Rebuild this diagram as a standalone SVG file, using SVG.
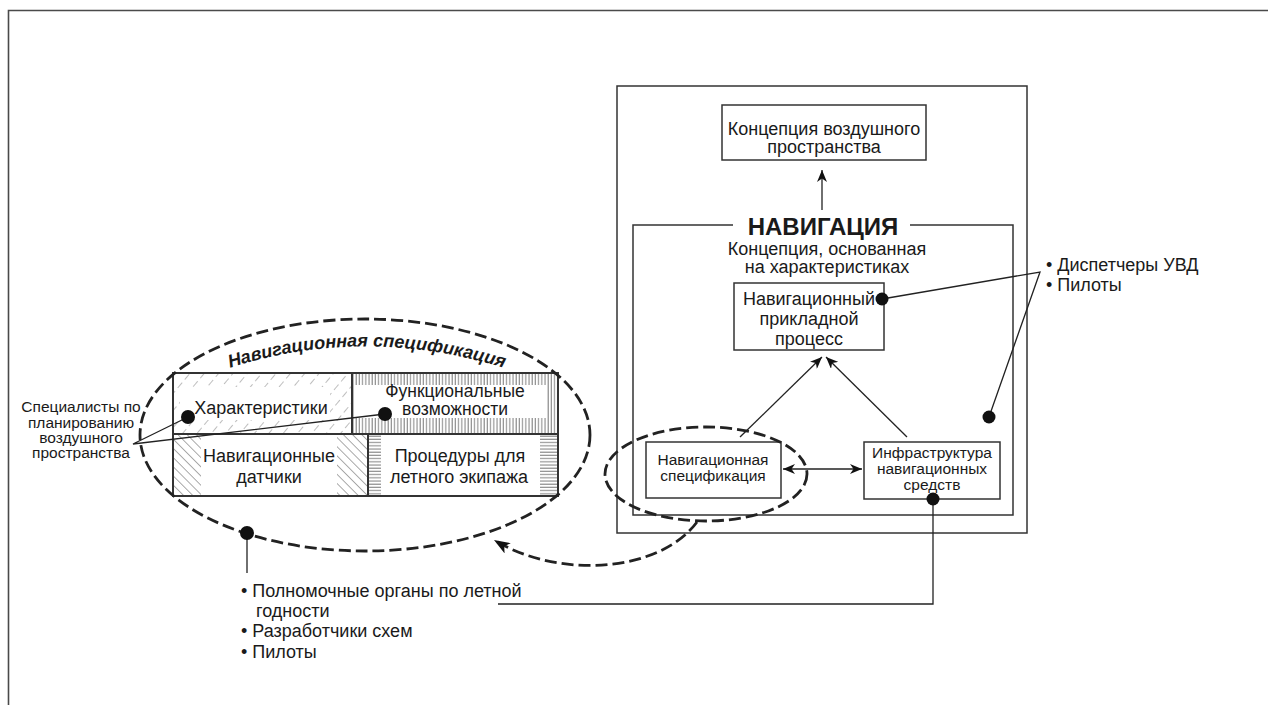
<svg xmlns="http://www.w3.org/2000/svg" width="1268" height="705" viewBox="0 0 1268 705">
  <style>
    text { font-family: "Liberation Sans", Arial, sans-serif; fill: #1a1a1a; }
    .t18 { font-size: 18px; }
    .t17 { font-size: 17.5px; }
    .t16 { font-size: 15.5px; }
    .mid { text-anchor: middle; }
    .box { fill: #fff; stroke: #333; stroke-width: 1.5; }
    .cell { fill: none; stroke: #333; stroke-width: 2; }
    .ln { fill: none; stroke: #222; stroke-width: 1.3; }
    .dash { fill: none; stroke: #222; stroke-width: 2.8; stroke-dasharray: 12 5; }
    .dot { fill: #111; }
  </style>
  <defs>
    <marker id="head" viewBox="0 0 12 10" refX="12" refY="5" markerWidth="12" markerHeight="10" markerUnits="userSpaceOnUse" orient="auto-start-reverse">
      <path d="M0,0 L12,5 L0,10 L3.5,5 z" fill="#111"/>
    </marker>
    <marker id="headBig" viewBox="0 0 16 12" refX="16" refY="6" markerWidth="16" markerHeight="12" markerUnits="userSpaceOnUse" orient="auto">
      <path d="M0,0 L16,6 L0,12 L4,6 z" fill="#111"/>
    </marker>
    <pattern id="hatchFwd" width="11" height="11" patternUnits="userSpaceOnUse" patternTransform="rotate(40)">
      <line x1="0" y1="0" x2="0" y2="11" stroke="#a8a8a8" stroke-width="1.5" stroke-dasharray="7 4"/>
    </pattern>
    <pattern id="hatchBack" width="6.5" height="6.5" patternUnits="userSpaceOnUse" patternTransform="rotate(-45)">
      <line x1="0" y1="0" x2="0" y2="6.5" stroke="#7d7d7d" stroke-width="1.3"/>
    </pattern>
    <pattern id="hatchVert" width="3.2" height="10" patternUnits="userSpaceOnUse">
      <line x1="1" y1="0" x2="1" y2="10" stroke="#888" stroke-width="1.1"/>
    </pattern>
    <pattern id="hatchHoriz" width="10" height="3.2" patternUnits="userSpaceOnUse">
      <line x1="0" y1="1" x2="10" y2="1" stroke="#888" stroke-width="1.1"/>
    </pattern>
    <path id="specArc" d="M 220,371 Q 364,322 514,371"/>
  </defs>

  <!-- page frame -->
  <path d="M8.5,705 V10.5 H1268" fill="none" stroke="#4a4a4a" stroke-width="1.6"/>

  <!-- navigation specification composition -->
  <g id="spec-composition">
    <rect x="173" y="373" width="179" height="61" fill="url(#hatchFwd)"/>
    <rect x="180" y="387" width="150" height="33" fill="#fff"/>
    <rect x="352" y="373" width="206" height="61" fill="url(#hatchVert)"/>
    <rect x="354" y="385" width="192" height="33" fill="#fff"/>
    <rect x="173" y="434" width="195" height="62" fill="url(#hatchBack)"/>
    <rect x="201" y="435" width="136" height="60" fill="#fff"/>
    <rect x="368" y="434" width="190" height="62" fill="url(#hatchHoriz)"/>
    <rect x="381" y="435" width="159" height="60" fill="#fff"/>

    <rect class="cell" x="173" y="373" width="385" height="123"/>
    <line class="cell" x1="173" y1="434" x2="558" y2="434"/>
    <line class="cell" x1="352" y1="373" x2="352" y2="434"/>
    <line class="cell" x1="368" y1="434" x2="368" y2="496"/>

    <text class="t18 mid" x="261" y="414">Характеристики</text>
    <text class="t17 mid" x="455" y="397">Функциональные</text>
    <text class="t17 mid" x="455" y="415">возможности</text>
    <text class="t18 mid" x="269" y="462">Навигационные</text>
    <text class="t18 mid" x="269" y="483">датчики</text>
    <text class="t18 mid" x="460" y="462">Процедуры для</text>
    <text class="t18 mid" x="459" y="483">летного экипажа</text>

    <text style="font-size:18px;font-weight:bold;font-style:italic"><textPath href="#specArc" startOffset="50%" text-anchor="middle">Навигационная спецификация</textPath></text>
  </g>

  <!-- stakeholder labels -->
  <g id="label-planners">
    <text class="t16 mid" x="81" y="412">Специалисты по</text>
    <text class="t16 mid" x="81" y="428">планированию</text>
    <text class="t16 mid" x="81" y="443">воздушного</text>
    <text class="t16 mid" x="81" y="458">пространства</text>
  </g>
  <g id="label-authorities">
    <text class="t18" x="241" y="597">• Полномочные органы по летной</text>
    <text class="t18" x="256" y="617">годности</text>
    <text class="t18" x="241" y="637">• Разработчики схем</text>
    <text class="t18" x="241" y="658">• Пилоты</text>
  </g>
  <g id="label-controllers">
    <text class="t18" x="1046" y="271">• Диспетчеры УВД</text>
    <text class="t18" x="1046" y="291">• Пилоты</text>
  </g>

  <!-- navigation frame -->
  <g id="outer-frame">
    <rect x="617" y="86" width="410" height="447" fill="none" stroke="#333" stroke-width="1.5"/>
  </g>
  <g id="airspace-concept">
    <rect class="box" x="722" y="105" width="204" height="55"/>
    <text class="t18 mid" x="824" y="135">Концепция воздушного</text>
    <text class="t18 mid" x="824" y="153">пространства</text>
  </g>
  <g id="navigation-frame">
    <path d="M733,225 H633 V515 H1013 V225 H910" fill="none" stroke="#333" stroke-width="1.5"/>
    <text class="mid" x="823" y="235" style="font-size:24px;font-weight:bold">НАВИГАЦИЯ</text>
    <text class="t18 mid" x="827" y="255">Концепция, основанная</text>
    <text class="t18 mid" x="827" y="273">на характеристиках</text>
  </g>
  <g id="nav-application">
    <rect class="box" x="734" y="283" width="150" height="67"/>
    <text class="t18 mid" x="809" y="305">Навигационный</text>
    <text class="t18 mid" x="809" y="325">прикладной</text>
    <text class="t18 mid" x="809" y="345">процесс</text>
  </g>
  <g id="nav-specification">
    <rect class="box" x="646" y="442" width="135" height="56"/>
    <text class="t16 mid" x="713" y="465">Навигационная</text>
    <text class="t16 mid" x="713" y="481">спецификация</text>
  </g>
  <g id="nav-infrastructure">
    <rect class="box" x="864" y="442" width="136" height="57"/>
    <text class="t16 mid" x="932" y="458">Инфраструктура</text>
    <text class="t16 mid" x="932" y="474">навигационных</text>
    <text class="t16 mid" x="932" y="490">средств</text>
  </g>

  <!-- connectors -->
  <g id="connectors">
    <ellipse class="dash" cx="365" cy="435" rx="225" ry="116"/>
    <ellipse class="dash" cx="706" cy="474" rx="101" ry="47"/>
    <path class="dash" d="M697,522 C660,572 560,580 494,540" marker-end="url(#headBig)"/>

    <line class="ln" x1="822" y1="210" x2="822" y2="170" marker-end="url(#head)"/>
    <line class="ln" x1="740" y1="437" x2="822" y2="357" marker-end="url(#head)"/>
    <line class="ln" x1="907" y1="437" x2="826" y2="357" marker-end="url(#head)"/>
    <line class="ln" x1="783" y1="469" x2="862" y2="469" marker-start="url(#head)" marker-end="url(#head)"/>

    <polyline class="ln" points="882,299 1040,272 989,417"/>
    <polyline class="ln" points="188,417 133,444 385,414"/>
    <line class="ln" x1="247" y1="533" x2="247" y2="573"/>
    <polyline class="ln" points="498,604 933,604 933,499"/>

    <circle class="dot" cx="882" cy="299" r="6.5"/>
    <circle class="dot" cx="989" cy="417" r="6.5"/>
    <circle class="dot" cx="933" cy="499" r="6.5"/>
    <circle class="dot" cx="188" cy="417" r="7"/>
    <circle class="dot" cx="385" cy="414" r="7"/>
    <circle class="dot" cx="247" cy="533" r="7"/>
  </g>
</svg>
